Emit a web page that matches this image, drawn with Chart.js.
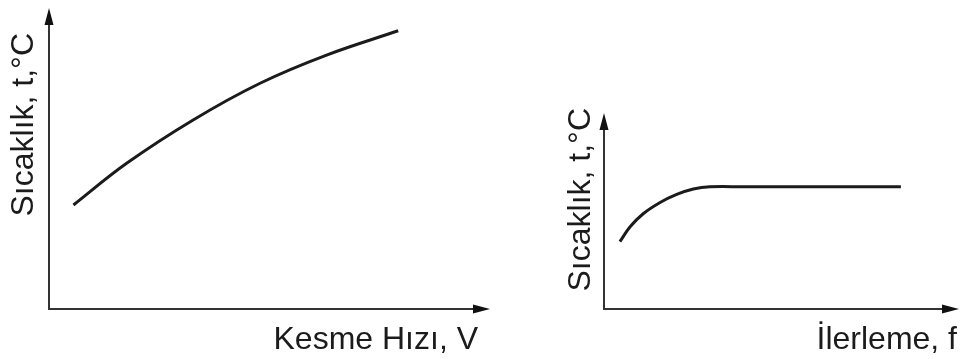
<!DOCTYPE html>
<html>
<head>
<meta charset="utf-8">
<script src="https://cdn.jsdelivr.net/npm/chart.js@4"></script>
<style>
  html, body { margin: 0; padding: 0; background: #fff; }
  body { width: 960px; height: 359px; position: relative; overflow: hidden; }
  canvas { position: absolute; top: 0; }
  #c1 { left: 0; }
  #c2 { left: 560px; }
</style>
</head>
<body>
<canvas id="c1" width="500" height="359"></canvas>
<canvas id="c2" width="400" height="359"></canvas>
<script>
// ---- data ----
const speedX = [5.7, 18.1, 33.6, 49.2, 64.7, 81.4];
const speedTemp = [37.7, 52.8, 68.5, 81.8, 92.0, 100.8];
const feedX = [4.5, 7.4, 11.1, 15.9, 20.6, 25.3, 30.0, 40.0, 84.1];
const feedTemp = [33.5, 40.9, 47.4, 53.0, 57.0, 59.7, 60.8, 60.8, 60.8];
const yTitles = ['Sıcaklık, t,°C', 'Sıcaklık, t,°C'];
const xTitles = ['Kesme Hızı, V', 'İlerleme, f'];

const FONT = { family: "'Liberation Sans', Arial, sans-serif", size: 32 };
const INK = '#1b1b1b';
const AXIS = '#333333';

// draws the two axis lines with arrow heads, from the chart's own scales
const arrowAxes = {
  id: 'arrowAxes',
  afterDraw(chart, args, opts) {
    const { ctx, chartArea } = chart;
    const x0 = chart.scales.x.left;
    const y0 = chart.scales.y.bottom;
    const xTip = chartArea.right + opts.xExtra;
    const yTip = chartArea.top + opts.yExtra;
    const hl = 17, hw = 4.5;
    ctx.save();
    ctx.strokeStyle = AXIS;
    ctx.fillStyle = '#111';
    ctx.lineWidth = 2;
    ctx.beginPath();
    ctx.moveTo(x0, yTip + hl - 2);
    ctx.lineTo(x0, y0);
    ctx.lineTo(xTip - hl + 2, y0);
    ctx.stroke();
    // y arrow
    ctx.beginPath();
    ctx.moveTo(x0, yTip);
    ctx.lineTo(x0 - hw, yTip + hl);
    ctx.lineTo(x0 + hw, yTip + hl);
    ctx.closePath();
    ctx.fill();
    // x arrow
    ctx.beginPath();
    ctx.moveTo(xTip, y0);
    ctx.lineTo(xTip - hl, y0 - hw);
    ctx.lineTo(xTip - hl, y0 + hw);
    ctx.closePath();
    ctx.fill();
    ctx.restore();
  }
};

function makeChart(id, xs, ys, xTitle, yTitle, lay) {
  const data = xs.map((x, i) => ({ x: x, y: ys[i] }));
  return new Chart(document.getElementById(id), {
    type: 'line',
    data: {
      datasets: [{
        data: data,
        borderColor: INK,
        borderWidth: 3,
        pointRadius: 0,
        fill: false,
        tension: 0.4,
        clip: false
      }]
    },
    options: {
      responsive: false,
      animation: false,
      devicePixelRatio: 1,
      layout: { padding: { top: lay.top, right: lay.right, left: 0, bottom: 0 } },
      plugins: {
        legend: { display: false },
        tooltip: { enabled: false },
        arrowAxes: { xExtra: lay.xExtra, yExtra: lay.yExtra }
      },
      scales: {
        x: {
          type: 'linear', min: 0, max: 100,
          grid: { display: false }, border: { display: false },
          ticks: { display: false },
          title: { display: true, text: xTitle, align: 'end', color: INK, font: FONT, padding: { top: 0, bottom: 0 } },
          afterFit: s => { s.height = lay.xh; }
        },
        y: {
          type: 'linear', min: 0, max: 100,
          grid: { display: false }, border: { display: false },
          ticks: { display: false },
          title: { display: true, text: yTitle, align: 'end', color: INK, font: FONT, padding: { top: lay.ytp, bottom: 0 } },
          afterFit: s => { s.width = lay.yw; }
        }
      }
    },
    plugins: [arrowAxes]
  });
}

makeChart('c1', speedX, speedTemp, xTitles[0], yTitles[0],
  { top: 33, right: 22, xh: 50, yw: 49, ytp: 5, xExtra: 12, yExtra: -25 });
makeChart('c2', feedX, feedTemp, xTitles[1], yTitles[1],
  { top: 108, right: 3, xh: 50, yw: 44, ytp: 2, xExtra: 2, yExtra: 5 });
</script>
</body>
</html>
